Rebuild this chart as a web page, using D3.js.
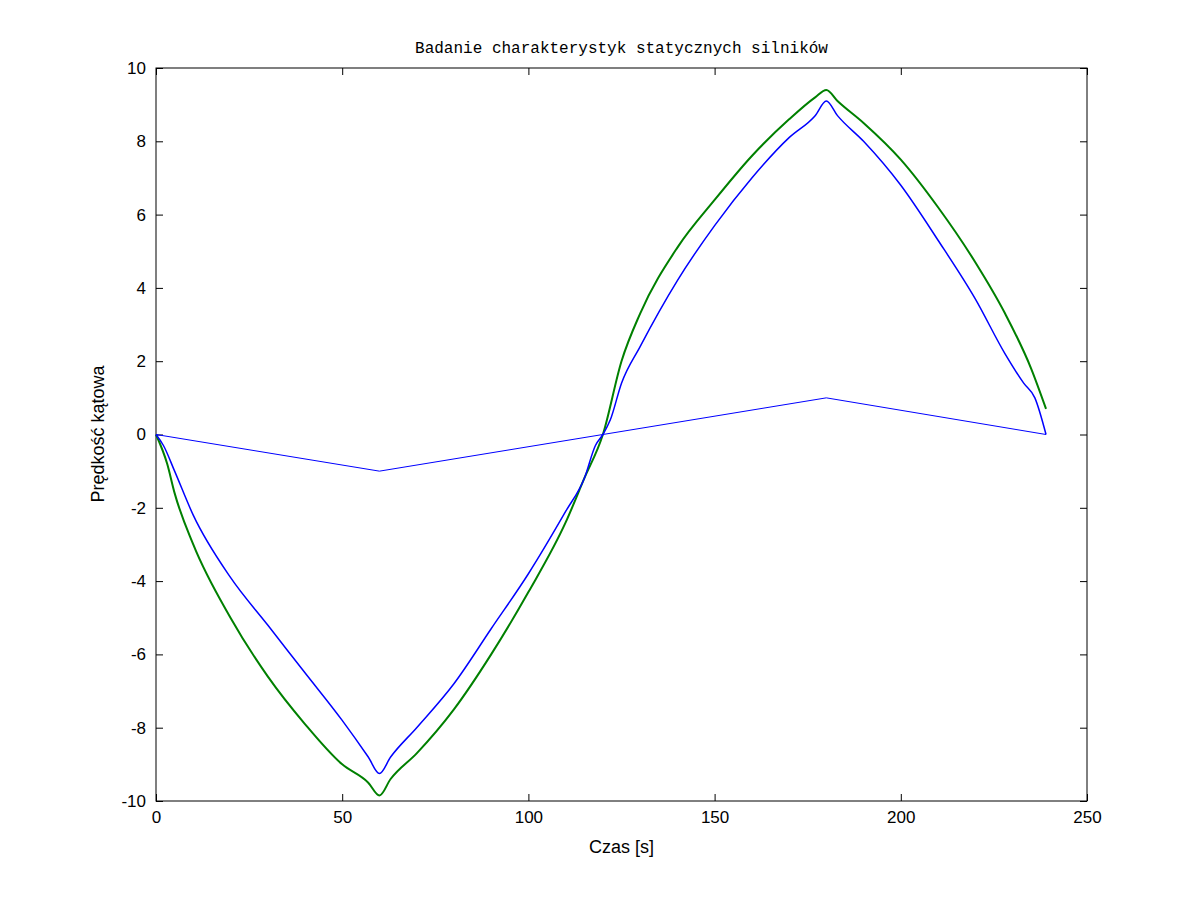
<!DOCTYPE html>
<html><head><meta charset="utf-8">
<script src="https://cdn.jsdelivr.net/npm/d3@7"></script>
<style>body{margin:0;background:#fff}</style>
</head><body>
<svg id="chart" width="1201" height="901"></svg>
<script>
// input signal
var refT = [0, 60, 180, 239];
var refV = [0, -1, 1, 0];
// blue response
var blueT = [0,2,5,10,20,30,40,50,57,60,63,70,80,90,100,110,115,118,120,122,125,130,140,150,160,170,177,180,183,190,200,210,220,228,233,236,239];
var blueV = [0,-0.3,-1.0,-2.2,-3.9,-5.2,-6.5,-7.8,-8.8,-9.25,-8.8,-8.0,-6.8,-5.3,-3.8,-2.1,-1.2,-0.3,0,0.4,1.4,2.4,4.2,5.7,7.0,8.1,8.7,9.1,8.7,8.0,6.8,5.3,3.7,2.2,1.4,1.0,0];
// green response
var greenT = [0,3,5,10,20,30,40,50,57,60,63,70,80,90,100,110,115,120,125,130,140,150,160,170,177,180,183,190,200,210,220,228,235,239];
var greenV = [0,-0.8,-1.6,-3.0,-5.0,-6.6,-7.9,-9.0,-9.5,-9.85,-9.4,-8.7,-7.5,-6.0,-4.3,-2.4,-1.2,0,2.0,3.3,5.1,6.4,7.6,8.6,9.2,9.4,9.1,8.5,7.5,6.2,4.7,3.3,1.8,0.7];
var xTicks = [0,50,100,150,200,250];
var yTicks = [-10,-8,-6,-4,-2,0,2,4,6,8,10];

var svg = d3.select("#chart");
var L = 156, R = 1087, T = 68, B = 801;
var x = d3.scaleLinear().domain([0,250]).range([L,R]);
var y = d3.scaleLinear().domain([-10,10]).range([B,T]);

svg.append("rect").attr("x",L).attr("y",T).attr("width",R-L).attr("height",B-T)
  .attr("fill","#fff").attr("stroke","#000");

function ax(g){ g.selectAll("text").attr("font-family","Arial, Liberation Sans").attr("font-size",17).attr("fill","#000");
  g.select(".domain").remove(); g.selectAll("line").attr("stroke","#000"); }
var fmt = function(d){ return String(d); };
svg.append("g").attr("transform","translate(0,"+B+")").call(d3.axisBottom(x).tickValues(xTicks).tickSize(-7).tickPadding(10).tickFormat(fmt)).call(ax);
svg.append("g").attr("transform","translate(0,"+T+")").call(d3.axisTop(x).tickValues(xTicks).tickSize(-7).tickFormat("")).call(ax);
svg.append("g").attr("transform","translate("+L+",0)").call(d3.axisLeft(y).tickValues(yTicks).tickSize(-7).tickPadding(10).tickFormat(fmt)).call(ax);
svg.append("g").attr("transform","translate("+R+",0)").call(d3.axisRight(y).tickValues(yTicks).tickSize(-7).tickFormat("")).call(ax);

function draw(ts, vs, col, w, curve){
  var line = d3.line().curve(curve).x(function(d){return x(d[0]);}).y(function(d){return y(d[1]);});
  svg.append("path").datum(d3.zip(ts, vs)).attr("d", line)
    .attr("fill","none").attr("stroke",col).attr("stroke-width",w);
}
draw(greenT, greenV, "#008000", 2, d3.curveMonotoneX);
draw(blueT, blueV, "#0000ff", 1.5, d3.curveMonotoneX);
draw(refT, refV, "#0000ff", 1, d3.curveLinear);

svg.append("text").attr("x",(L+R)/2).attr("y",53).attr("text-anchor","middle")
  .attr("font-family","Liberation Mono, Courier New, monospace").attr("font-size",16).text("Badanie charakterystyk statycznych silników");
svg.append("text").attr("x",(L+R)/2).attr("y",853).attr("text-anchor","middle")
  .attr("font-family","Arial, Liberation Sans").attr("font-size",18).text("Czas [s]");
svg.append("text").attr("transform","translate(104,434) rotate(-90)").attr("text-anchor","middle")
  .attr("font-family","Arial, Liberation Sans").attr("font-size",18).text("Prędkość kątowa");
</script>
</body></html>
